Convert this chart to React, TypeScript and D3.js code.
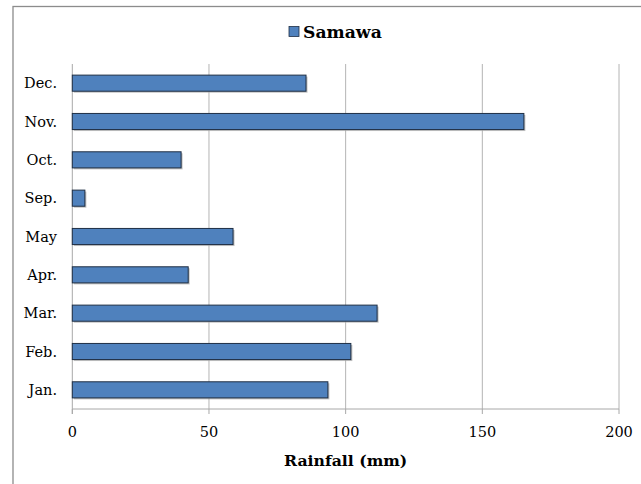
import React from "react";
import * as d3 from "d3";

const months = ["Jan.", "Feb.", "Mar.", "Apr.", "May", "Sep.", "Oct.", "Nov.", "Dec."];
const rainfall = [93.5, 101.9, 111.5, 42.4, 58.8, 4.6, 39.8, 165.2, 85.5];
const xTicks = [0, 50, 100, 150, 200];
const seriesName = "Samawa";

const W = 641;
const H = 484;
const FONT = "'DejaVu Serif', serif";

export default function App() {
  const left = 72.3;
  const right = 619;
  const top = 64;
  const bottom = 409;
  const x = d3.scaleLinear().domain([0, 200]).range([left, right]);
  const y = d3
    .scaleBand<string>()
    .domain([...months].reverse())
    .range([top, bottom])
    .paddingInner(0.58)
    .paddingOuter(0.29);

  return (
    <svg width={W} height={H} style={{ position: "absolute", left: 0, top: 0 }} fontFamily={FONT}>
      <rect x={0} y={0} width={W} height={H} fill="#fff" />
      <rect x={13} y={6.5} width={W + 10} height={H + 10} fill="#fff" stroke="#8c8c8c" strokeWidth={1.3} />
      {xTicks.slice(1).map((t) => (
        <line key={t} x1={x(t)} x2={x(t)} y1={top} y2={bottom} stroke="#b4b4b4" strokeWidth={1} />
      ))}
      <line x1={left} x2={left} y1={top} y2={bottom + 5} stroke="#a8a8a8" strokeWidth={1} />
      <line x1={left} x2={right} y1={bottom} y2={bottom} stroke="#a8a8a8" strokeWidth={1} />
      {xTicks.map((t) => (
        <line key={"tk" + t} x1={x(t)} x2={x(t)} y1={bottom} y2={bottom + 5} stroke="#a8a8a8" strokeWidth={1} />
      ))}
      {months.map((m, i) => {
        const y0 = y(m)!;
        const bh = y.bandwidth();
        const x1 = x(rainfall[i]);
        return (
          <g key={m}>
            <rect x={left + 1.5} y={y0 + 1.5} width={x1 - left} height={bh} fill="#a6a6a6" opacity={0.7} />
            <rect x={left} y={y0} width={x1 - left} height={bh} fill="#4f81bd" stroke="#1f2f45" strokeWidth={1} />
          </g>
        );
      })}
      {months.map((m) => (
        <text key={"l" + m} x={57} y={y(m)! + y.bandwidth() / 2} textAnchor="end" dominantBaseline="central" fontSize={14.5} fill="#000">
          {m}
        </text>
      ))}
      {xTicks.map((t) => (
        <text key={"xl" + t} x={x(t)} y={432} textAnchor="middle" dominantBaseline="central" fontSize={14.5} fill="#000">
          {t}
        </text>
      ))}
      <text x={(left + right) / 2} y={460} textAnchor="middle" dominantBaseline="central" fontSize={15.7} fontWeight="bold" fill="#000">
        Rainfall (mm)
      </text>
      <rect x={289} y={26.5} width={10} height={10} fill="#4f81bd" stroke="#1f2f45" strokeWidth={0.8} />
      <text x={303} y={32} dominantBaseline="central" fontSize={17.2} fontWeight="bold" fill="#000">
        {seriesName}
      </text>
    </svg>
  );
}
